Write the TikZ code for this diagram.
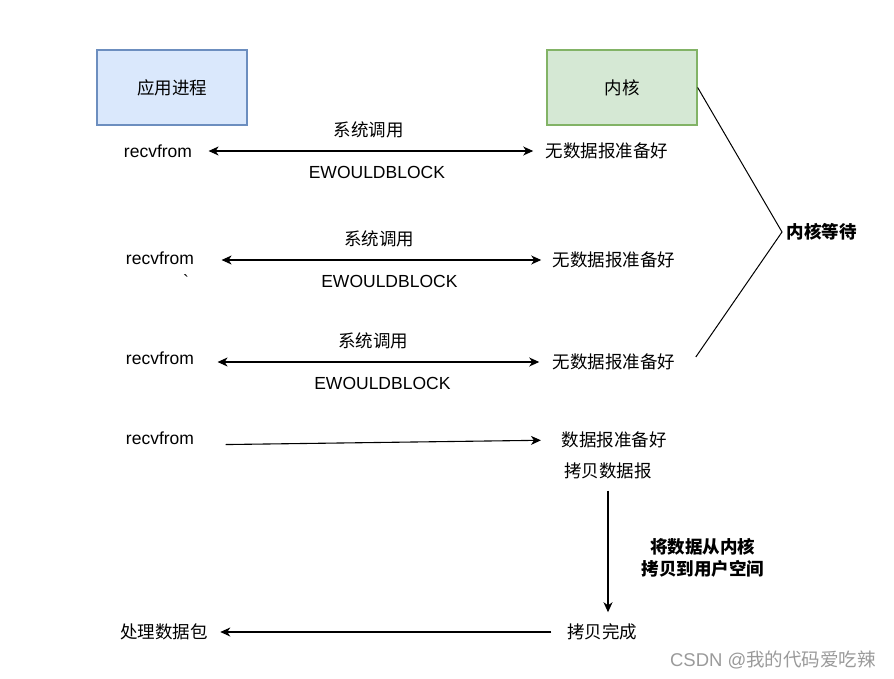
\documentclass[tikz,border=0pt]{standalone}
\usepackage{fontspec}
\setmainfont{Liberation Sans}
\newfontfamily\cjk{Noto Sans CJK SC}
\usetikzlibrary{arrows.meta}
\definecolor{cblue}{HTML}{dae8fc}
\definecolor{cblueline}{HTML}{6c8ebf}
\definecolor{cgreen}{HTML}{d5e8d4}
\definecolor{cgreenline}{HTML}{82b366}
\definecolor{cmark}{HTML}{9a9a9a}

\begin{document}
\begin{tikzpicture}[x=1pt,y=-1pt,font=\fontsize{17.5}{21}\selectfont,>={Stealth[length=10pt,width=9pt,inset=3pt]},line width=1.1pt]
  \tikzstyle{box}=[draw,line width=1.3pt,minimum width=150pt,minimum height=75pt,font=\fontsize{17.5}{21}\selectfont\cjk]
  \tikzstyle{t}=[inner sep=0pt]
  \tikzstyle{c}=[inner sep=0pt,font=\fontsize{17.5}{21}\selectfont\cjk]
  \tikzstyle{cb}=[inner sep=0pt,align=center,font=\fontsize{17.5}{22}\selectfont\cjk\bfseries]
  \useasboundingbox (0,0) rectangle (894,678);
  % the two sides
  \node[box,fill=cblue,draw=cblueline] (app) at (172,87.5) {应用进程};
  \node[box,fill=cgreen,draw=cgreenline] (k) at (622,87.5) {内核};
  % three calls with no data
  \node[t] (r1) at (158,151) {recvfrom};
  \node[c] (n1) at (607,151) {无数据报准备好};
  \node[t] (r2) at (160,258) {recvfrom};
  \node[t] (tick) at (186,281) {\textasciigrave};
  \node[c] (n2) at (614,260) {无数据报准备好};
  \node[t] (r3) at (160,358) {recvfrom};
  \node[c] (n3) at (614,362) {无数据报准备好};
  \draw[<->,shorten <=16pt,shorten >=12pt] (r1) -- node[c,above=12pt]{系统调用} node[t,below=15pt,xshift=8pt]{EWOULDBLOCK} (n1);
  \draw[<->,shorten <=27pt,shorten >=11pt] (r2.east |- n2) -- node[c,above=12pt,xshift=6pt]{系统调用} node[t,below=15pt,xshift=16pt]{EWOULDBLOCK} (n2);
  \draw[<->,shorten <=23pt,shorten >=13pt] (r3.east |- n3) -- node[c,above=12pt]{系统调用} node[t,below=15pt,xshift=9pt]{EWOULDBLOCK} (n3);
  % kernel waiting
  \coordinate (w) at (782,232);
  \node[cb,anchor=west] (wait) at (786,232) {内核等待};
  \draw[line width=1pt] (k.east) -- (w) -- ([shift={(20pt,5pt)}]n3.east);
  % data ready
  \node[t] (r4) at (160,438) {recvfrom};
  \node[c] (n4) at (614,440) {数据报准备好};
  \node[c] (c4) at (608,471) {拷贝数据报};
  \draw[->,shorten <=31pt,shorten >=20pt] (r4.south east) -- (n4.west);
  \node[c] (d) at (602,632) {拷贝完成};
  \node[c] (p) at (164,632) {处理数据包};
  \draw[->,shorten <=11pt,shorten >=11pt] (c4.south) -- (c4.south |- d.north)
    node[cb,midway,right=33pt,yshift=-6pt] {将数据从内核\\拷贝到用户空间};
  \draw[->,shorten <=15pt,shorten >=12pt] (d) -- (p);
  \node[t,text=cmark,font=\fontsize{18.5}{22}\selectfont] (wm) at (773,660) {CSDN @{\cjk 我的代码爱吃辣}};
\end{tikzpicture}
\end{document}
